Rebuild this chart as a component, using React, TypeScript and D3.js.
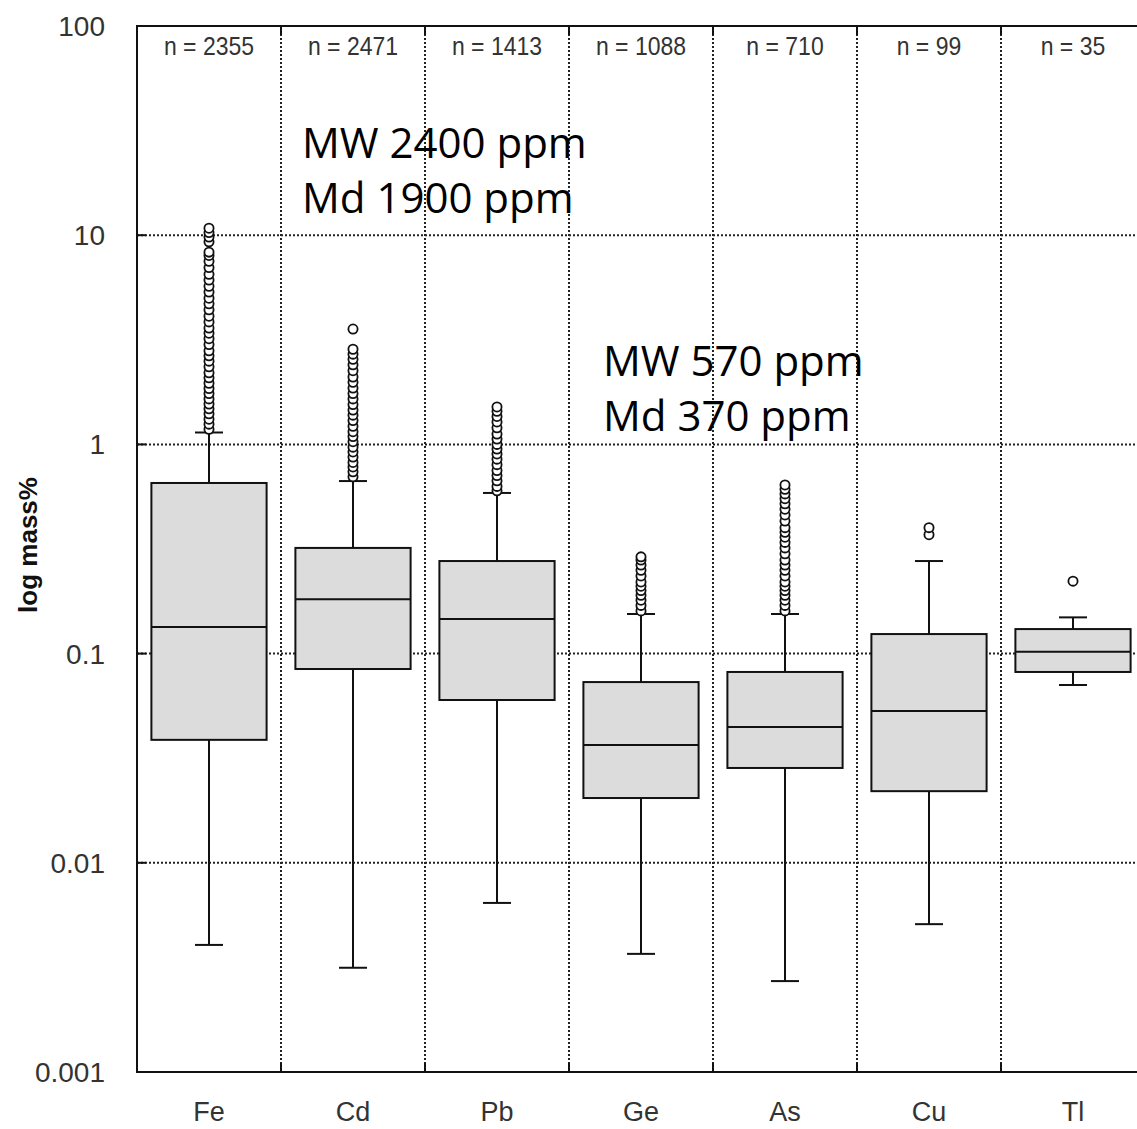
import React from 'react';
import * as d3 from 'd3';

const elements = ['Fe', 'Cd', 'Pb', 'Ge', 'As', 'Cu', 'Tl'];
const counts = [2355, 2471, 1413, 1088, 710, 99, 35];

// [lower whisker, Q1, median, Q3, upper whisker] in mass%
const whiskerLow = [0.00405, 0.00315, 0.00643, 0.00367, 0.00272, 0.00509, 0.0708];
const q1 = [0.0387, 0.0844, 0.06, 0.0204, 0.0284, 0.022, 0.0817];
const medians = [0.134, 0.182, 0.1465, 0.0366, 0.0446, 0.0532, 0.102];
const q3 = [0.654, 0.32, 0.277, 0.0731, 0.0817, 0.124, 0.131];
const whiskerHigh = [1.14, 0.668, 0.586, 0.1546, 0.1546, 0.277, 0.149];

const outliers: number[][] = [
  [1.18, 1.25, 1.32, 1.4, 1.48, 1.56, 1.65, 1.75, 1.85, 1.96, 2.08, 2.2, 2.35, 2.5, 2.65, 2.8, 3.0, 3.2, 3.4, 3.6,
    3.85, 4.1, 4.4, 4.7, 5.0, 5.35, 5.7, 6.1, 6.5, 7.0, 7.5, 8.0, 8.3, 9.3, 9.8, 10.3, 10.8],
  [0.7, 0.74, 0.78, 0.82, 0.87, 0.92, 0.97, 1.03, 1.09, 1.15, 1.22, 1.3, 1.38, 1.46, 1.55, 1.65, 1.75, 1.86, 1.98,
    2.1, 2.25, 2.4, 2.55, 2.7, 2.85, 3.56],
  [0.6, 0.63, 0.67, 0.71, 0.75, 0.8, 0.85, 0.9, 0.95, 1.0, 1.06, 1.12, 1.2, 1.28, 1.36, 1.44, 1.51],
  [0.16, 0.17, 0.18, 0.19, 0.2, 0.21, 0.22, 0.235, 0.25, 0.265, 0.28, 0.29],
  [0.16, 0.17, 0.18, 0.19, 0.2, 0.21, 0.22, 0.235, 0.25, 0.265, 0.28, 0.3, 0.32, 0.34, 0.36, 0.38, 0.4, 0.43, 0.46,
    0.49, 0.52, 0.55, 0.58, 0.61, 0.64],
  [0.37, 0.4],
  [0.222],
];

const yTicks = [0.001, 0.01, 0.1, 1, 10, 100];
const yTickLabels = ['0.001', '0.01', '0.1', '1', '10', '100'];

const notes = [
  { lines: ['MW 2400 ppm', 'Md 1900 ppm'], x: 302, y: 158 },
  { lines: ['MW 570 ppm', 'Md 370 ppm'], x: 603, y: 376 },
];

const W = 1137;
const H = 1129;
const left = 137;
const top = 26;
const bottom = 1072;
const right = left + 144 * elements.length;

export default function App() {
  const x = d3.scaleBand<string>().domain(elements).range([left, right]).paddingInner(0).paddingOuter(0);
  const y = d3.scaleLog().domain([0.001, 100]).range([bottom, top]);
  const bw = x.bandwidth();
  const boxW = bw * 0.8;
  const capW = 28;
  const axisFont = 'Liberation Sans, Arial, sans-serif';

  return (
    <svg width={W} height={H} style={{ position: 'absolute', left: 0, top: 0, background: '#fff' }}>
      <rect x={0} y={0} width={W} height={H} fill="#fff" />

      {/* grid */}
      {yTicks.slice(1, -1).map(t => (
        <line key={'gy' + t} x1={left} x2={right} y1={y(t)} y2={y(t)}
          stroke="#222" strokeWidth={2} strokeDasharray="2,2" />
      ))}
      {elements.slice(1).map(e => (
        <line key={'gx' + e} x1={x(e)!} x2={x(e)!} y1={top} y2={bottom}
          stroke="#222" strokeWidth={2} strokeDasharray="2,2" />
      ))}

      {/* boxes */}
      {elements.map((e, i) => {
        const cx = x(e)! + bw / 2;
        return (
          <g key={e}>
            <line x1={cx} x2={cx} y1={y(whiskerHigh[i])} y2={y(q3[i])} stroke="#111" strokeWidth={2} />
            <line x1={cx} x2={cx} y1={y(q1[i])} y2={y(whiskerLow[i])} stroke="#111" strokeWidth={2} />
            <line x1={cx - capW / 2} x2={cx + capW / 2} y1={y(whiskerHigh[i])} y2={y(whiskerHigh[i])} stroke="#111" strokeWidth={2} />
            <line x1={cx - capW / 2} x2={cx + capW / 2} y1={y(whiskerLow[i])} y2={y(whiskerLow[i])} stroke="#111" strokeWidth={2} />
            <rect x={cx - boxW / 2} y={y(q3[i])} width={boxW} height={y(q1[i]) - y(q3[i])}
              fill="#dcdcdc" stroke="#111" strokeWidth={2} />
            <line x1={cx - boxW / 2} x2={cx + boxW / 2} y1={y(medians[i])} y2={y(medians[i])} stroke="#111" strokeWidth={2} />
            {outliers[i].map((v, j) => (
              <circle key={j} cx={cx} cy={y(v)} r={4.6} fill="#fff" stroke="#111" strokeWidth={1.8} />
            ))}
            <text x={cx} y={55} textAnchor="middle" fontFamily={axisFont} fontSize={25} fill="#333"
              transform={`translate(${cx},0) scale(0.92,1) translate(${-cx},0)`}>
              {`n = ${counts[i]}`}
            </text>
            <text x={cx} y={1121} textAnchor="middle" fontFamily={axisFont} fontSize={27} fill="#333">{e}</text>
          </g>
        );
      })}

      {/* frame and ticks */}
      <rect x={left} y={top} width={right - left} height={bottom - top} fill="none" stroke="#111" strokeWidth={2} />
      {yTicks.map(t => (
        <line key={'ty' + t} x1={left} x2={left + 9} y1={y(t)} y2={y(t)} stroke="#111" strokeWidth={2} />
      ))}
      {elements.slice(1).map(e => (
        <g key={'tx' + e}>
          <line x1={x(e)!} x2={x(e)!} y1={bottom} y2={bottom - 9} stroke="#111" strokeWidth={2} />
          <line x1={x(e)!} x2={x(e)!} y1={top} y2={top + 9} stroke="#111" strokeWidth={2} />
        </g>
      ))}

      {/* y axis labels */}
      {yTicks.map((t, i) => (
        <text key={'yl' + t} x={105} y={y(t) + 10} textAnchor="end" fontFamily={axisFont} fontSize={28} fill="#333">
          {yTickLabels[i]}
        </text>
      ))}
      <text transform="translate(37,545) rotate(-90)" textAnchor="middle" fontFamily={axisFont}
        fontSize={26} fontWeight="bold" fill="#111">log mass%</text>

      {/* annotations */}
      {notes.map((n, i) => (
        <text key={'n' + i} fontFamily="'Open Sans', sans-serif" fontSize={42} fill="#000">
          {n.lines.map((l, k) => (
            <tspan key={k} x={n.x} y={n.y + k * 55}>{l}</tspan>
          ))}
        </text>
      ))}
    </svg>
  );
}
